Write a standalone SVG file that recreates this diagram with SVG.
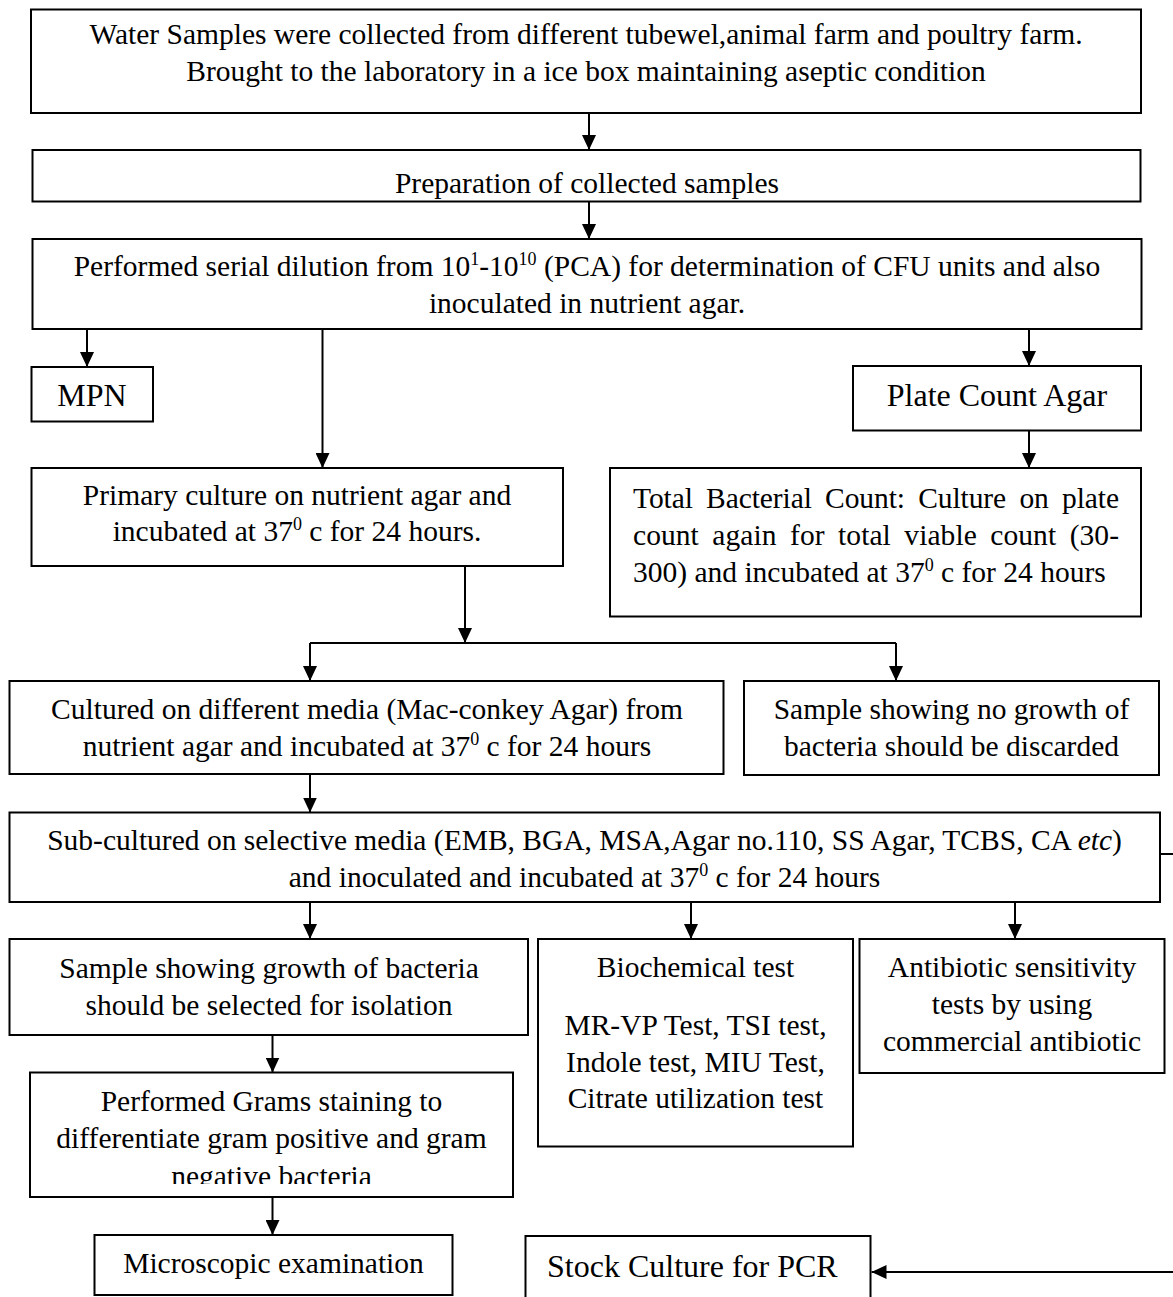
<svg xmlns="http://www.w3.org/2000/svg" width="1173" height="1297" viewBox="0 0 1173 1297">
<style>
.box{fill:#fff;stroke:#000;stroke-width:2}
.t{font-family:"Liberation Serif","Times New Roman",serif;font-size:29.5px;text-anchor:middle;fill:#000}
.big{font-size:32px}
.l{text-anchor:start}
.j{word-spacing:6px}
.c{fill:none;stroke:#000;stroke-width:2}
.sup{font-size:18px}
</style>
<defs>
<marker id="ah" viewBox="0 0 15 14" refX="15" refY="7" markerWidth="15" markerHeight="14" markerUnits="userSpaceOnUse" orient="auto"><path d="M0,0 L15,7 L0,14 z" fill="#000"/></marker>
<clipPath id="gclip"><rect x="30" y="1072" width="483" height="112"/></clipPath>
</defs>

<g id="n-collect">
<rect class="box" x="31" y="9.5" width="1110" height="103.5"/>
<text class="t" x="586" y="44">Water Samples were collected from different tubewel,animal farm and poultry farm.</text>
<text class="t" x="586" y="81">Brought to the laboratory in a ice box maintaining aseptic condition</text>
</g>

<g id="n-prep">
<rect class="box" x="32.5" y="150" width="1108" height="51.5"/>
<text class="t" x="587" y="193">Preparation of collected samples</text>
</g>

<g id="n-serial">
<rect class="box" x="32.5" y="239" width="1109" height="90"/>
<text class="t" x="587" y="276">Performed serial dilution from 10<tspan class="sup" dy="-11">1</tspan><tspan dy="11">-10</tspan><tspan class="sup" dy="-11">10</tspan><tspan dy="11"> (PCA) for determination of CFU units and also</tspan></text>
<text class="t" x="587" y="313">inoculated in nutrient agar.</text>
</g>

<g id="n-mpn">
<rect class="box" x="31.5" y="367" width="121.5" height="54.5"/>
<text class="t big" x="92" y="406">MPN</text>
</g>

<g id="n-pca">
<rect class="box" x="853" y="366" width="288" height="64.5"/>
<text class="t big" x="997" y="406">Plate Count Agar</text>
</g>

<g id="n-primary">
<rect class="box" x="31.5" y="468" width="531.5" height="98"/>
<text class="t" x="297" y="505">Primary culture on nutrient agar and</text>
<text class="t" x="297" y="541">incubated at 37<tspan class="sup" dy="-11">0</tspan><tspan dy="11"> c for 24 hours.</tspan></text>
</g>

<g id="n-total">
<rect class="box" x="610" y="468" width="531" height="148.5"/>
<text class="t l j" x="633" y="508" textLength="486" lengthAdjust="spacing">Total Bacterial Count: Culture on plate</text>
<text class="t l j" x="633" y="545" textLength="486" lengthAdjust="spacing">count again for total viable count (30-</text>
<text class="t l" x="633" y="582">300) and incubated at 37<tspan class="sup" dy="-11">0</tspan><tspan dy="11"> c for 24 hours</tspan></text>
</g>

<g id="n-cultured">
<rect class="box" x="9.5" y="681" width="714" height="93"/>
<text class="t" x="367" y="719">Cultured on different media (Mac-conkey Agar) from</text>
<text class="t" x="367" y="756">nutrient agar and incubated at 37<tspan class="sup" dy="-11">0</tspan><tspan dy="11"> c for 24 hours</tspan></text>
</g>

<g id="n-nogrowth">
<rect class="box" x="744" y="681" width="415" height="94"/>
<text class="t" x="951.5" y="719">Sample showing no growth of</text>
<text class="t" x="951.5" y="756">bacteria should be discarded</text>
</g>

<g id="n-sub">
<rect class="box" x="9.5" y="812.5" width="1150.5" height="89.5"/>
<text class="t" x="584.5" y="850">Sub-cultured on selective media (EMB, BGA, MSA,Agar no.110, SS Agar, TCBS, CA <tspan font-style="italic">etc</tspan>)</text>
<text class="t" x="584.5" y="887">and inoculated and incubated at 37<tspan class="sup" dy="-11">0</tspan><tspan dy="11"> c for 24 hours</tspan></text>
</g>

<g id="n-growth">
<rect class="box" x="9.5" y="939" width="518.5" height="96"/>
<text class="t" x="269" y="978">Sample showing growth of bacteria</text>
<text class="t" x="269" y="1015">should be selected for isolation</text>
</g>

<g id="n-biochem">
<rect class="box" x="538" y="939" width="315" height="207.5"/>
<text class="t" x="695.5" y="977">Biochemical test</text>
<text class="t" x="695.5" y="1035">MR-VP Test, TSI test,</text>
<text class="t" x="695.5" y="1072">Indole test, MIU Test,</text>
<text class="t" x="695.5" y="1108">Citrate utilization test</text>
</g>

<g id="n-antibiotic">
<rect class="box" x="859.5" y="939" width="305" height="134"/>
<text class="t" x="1012" y="977">Antibiotic sensitivity</text>
<text class="t" x="1012" y="1014">tests by using</text>
<text class="t" x="1012" y="1051">commercial antibiotic</text>
</g>

<g id="n-grams">
<rect class="box" x="30" y="1072.5" width="483" height="124.5"/>
<text class="t" x="271.5" y="1111">Performed Grams staining to</text>
<text class="t" x="271.5" y="1148">differentiate gram positive and gram</text>
<text class="t" x="271.5" y="1186" clip-path="url(#gclip)">negative bacteria</text>
</g>

<g id="n-micro">
<rect class="box" x="94.5" y="1235" width="358" height="60"/>
<text class="t" x="273.5" y="1273">Microscopic examination</text>
</g>

<g id="n-stock">
<rect class="box" x="525.5" y="1236" width="345" height="80"/>
<text class="t big l" x="547" y="1277">Stock Culture for PCR</text>
</g>

<g id="connectors">
<path class="c" d="M589,113 V150" marker-end="url(#ah)"/>
<path class="c" d="M589,201.5 V239" marker-end="url(#ah)"/>
<path class="c" d="M87,329 V367" marker-end="url(#ah)"/>
<path class="c" d="M322.5,329 V468" marker-end="url(#ah)"/>
<path class="c" d="M1029,329 V366" marker-end="url(#ah)"/>
<path class="c" d="M1029,430.5 V468" marker-end="url(#ah)"/>
<path class="c" d="M465,566 V643" marker-end="url(#ah)"/>
<path class="c" d="M310,643 H896"/>
<path class="c" d="M310,643 V681" marker-end="url(#ah)"/>
<path class="c" d="M896,643 V681" marker-end="url(#ah)"/>
<path class="c" d="M310,774 V812.5" marker-end="url(#ah)"/>
<path class="c" d="M310,902 V939" marker-end="url(#ah)"/>
<path class="c" d="M691,902 V939" marker-end="url(#ah)"/>
<path class="c" d="M1015,902 V939" marker-end="url(#ah)"/>
<path class="c" d="M272.5,1035 V1072.5" marker-end="url(#ah)"/>
<path class="c" d="M272.5,1197 V1235" marker-end="url(#ah)"/>
<path class="c" d="M1160,854 H1176 V1272 H871.5" marker-end="url(#ah)"/>
</g>
</svg>
